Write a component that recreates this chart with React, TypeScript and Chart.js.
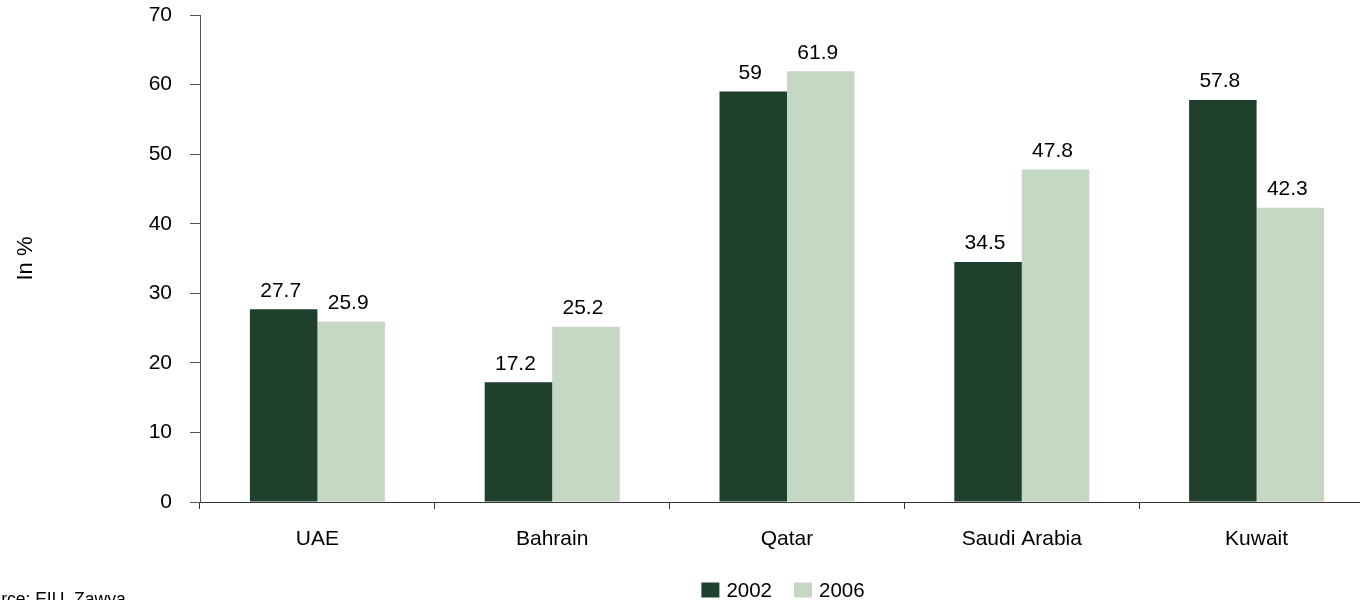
import { useEffect, useRef } from "react";
import { Chart, registerables } from "chart.js";

Chart.register(...registerables);

// ---- data ----
const categories = ["UAE", "Bahrain", "Qatar", "Saudi Arabia", "Kuwait"];
const seriesLabels = ["2002", "2006"];
const values2002 = [27.7, 17.2, 59, 34.5, 57.8];
const values2006 = [25.9, 25.2, 61.9, 47.8, 42.3];
const yMin = 0;
const yMax = 70;
const yStep = 10;
const yAxisTitle = "In %";
const sourceNote = "Source: EIU, Zawya";

// ---- styles ----
const FONT = "'Liberation Sans', Arial, Helvetica, sans-serif";
const DARK = "#1f402d";
const LIGHT = "#c4d8c4";
const CANVAS_LEFT = -40;
const CANVAS_W = 1425;
const CANVAS_H = 610;

// value labels above each bar
const valueLabels = {
  id: "valueLabels",
  afterDatasetsDraw(chart: any) {
    const ctx = chart.ctx;
    ctx.save();
    ctx.font = `21px ${FONT}`;
    ctx.fillStyle = "#000";
    ctx.textAlign = "center";
    ctx.textBaseline = "alphabetic";
    chart.data.datasets.forEach((ds: any, di: number) => {
      const meta = chart.getDatasetMeta(di);
      meta.data.forEach((bar: any, i: number) => {
        ctx.fillText(String(ds.data[i]), bar.x - 3, bar.y - 12.5);
      });
    });
    ctx.restore();
  },
};

// legend row and source note along the bottom
const bottomNotes = {
  id: "bottomNotes",
  afterDraw(chart: any) {
    const ctx = chart.ctx;
    ctx.save();
    ctx.font = `20.5px ${FONT}`;
    ctx.textBaseline = "middle";
    ctx.textAlign = "left";
    const boxW = 18;
    const boxH = 15;
    const gapText = 7;
    const gapItem = 22;
    const items = chart.data.datasets.map((ds: any) => ({
      label: ds.label,
      color: ds.backgroundColor,
      w: ctx.measureText(ds.label).width,
    }));
    const total =
      items.reduce((s: number, it: any) => s + boxW + gapText + it.w, 0) +
      gapItem * (items.length - 1);
    const cy = 590;
    let x = 823 - total / 2;
    items.forEach((it: any) => {
      ctx.fillStyle = it.color;
      ctx.fillRect(x, cy - boxH / 2, boxW, boxH);
      x += boxW + gapText;
      ctx.fillStyle = "#000";
      ctx.fillText(it.label, x, cy + 1);
      x += it.w + gapItem;
    });

    ctx.font = `17.5px ${FONT}`;
    ctx.textBaseline = "alphabetic";
    ctx.fillStyle = "#000";
    ctx.fillText(sourceNote, 10, 605);
    ctx.restore();
  },
};

export default function App() {
  const ref = useRef<HTMLCanvasElement | null>(null);

  useEffect(() => {
    if (!ref.current) return;
    const chart = new Chart(ref.current, {
      type: "bar",
      data: {
        labels: categories,
        datasets: [
          {
            label: seriesLabels[0],
            data: values2002,
            backgroundColor: DARK,
            categoryPercentage: 0.575,
            barPercentage: 1,
          },
          {
            label: seriesLabels[1],
            data: values2006,
            backgroundColor: LIGHT,
            categoryPercentage: 0.575,
            barPercentage: 1,
          },
        ],
      },
      options: {
        responsive: false,
        animation: false,
        layout: { padding: { top: 15, right: 11, left: 0, bottom: 58 } },
        plugins: {
          legend: { display: false },
          tooltip: { enabled: false },
        },
        scales: {
          x: {
            grid: {
              offset: true,
              drawOnChartArea: false,
              drawTicks: true,
              tickLength: 7,
              color: "#333",
            },
            border: { display: true, color: "#333", width: 1 },
            ticks: {
              color: "#000",
              padding: 18,
              font: { family: FONT, size: 21 },
              maxRotation: 0,
            },
            afterFit(scale: any) {
              scale.height = 50;
              scale.paddingLeft = 0;
              scale.paddingRight = 0;
            },
          },
          y: {
            min: yMin,
            max: yMax,
            grid: {
              drawOnChartArea: false,
              drawTicks: true,
              tickLength: 10,
              color: "#555",
            },
            border: { display: true, color: "#555", width: 1 },
            ticks: {
              stepSize: yStep,
              color: "#000",
              padding: 18,
              font: { family: FONT, size: 21 },
            },
            title: {
              display: true,
              text: yAxisTitle,
              color: "#000",
              font: { family: FONT, size: 22 },
              padding: { top: 52.8, bottom: 0 },
            },
            afterFit(scale: any) {
              scale.width = 240;
              scale.paddingTop = 0;
              scale.paddingBottom = 0;
            },
          },
        },
      },
      plugins: [valueLabels, bottomNotes],
    });
    return () => chart.destroy();
  }, []);

  return (
    <div
      style={{
        position: "fixed",
        left: 0,
        top: 0,
        width: 1360,
        height: 600,
        overflow: "hidden",
        background: "#fff",
      }}
    >
      <canvas
        ref={ref}
        width={CANVAS_W}
        height={CANVAS_H}
        style={{ position: "absolute", left: CANVAS_LEFT, top: 0 }}
      />
    </div>
  );
}
